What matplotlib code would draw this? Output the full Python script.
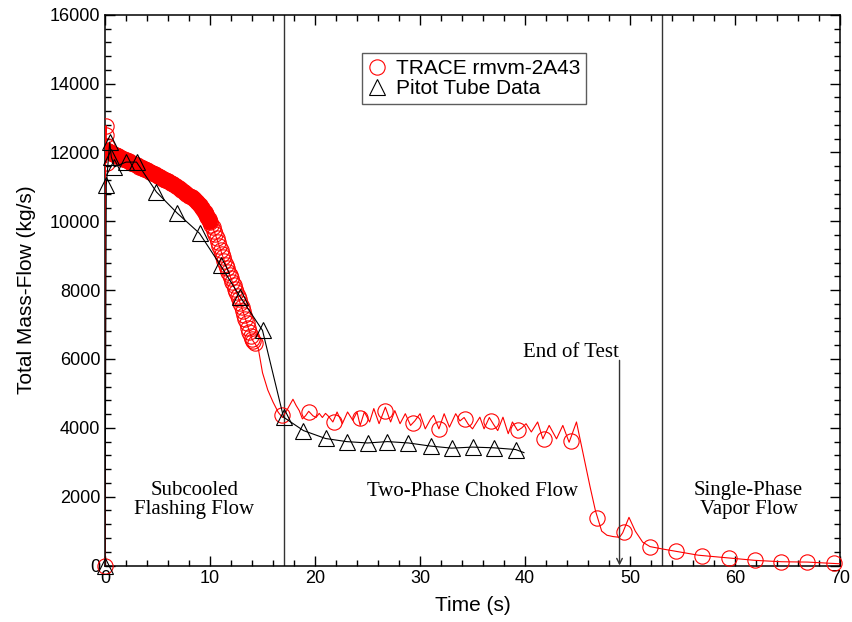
import matplotlib
matplotlib.use("Agg")
import matplotlib.pyplot as plt
from matplotlib.ticker import MultipleLocator

# TRACE calculation, line (time s, mass flow kg/s)
trace_t = [0, 0.05, 0.1, 0.15, 0.2,
           0.25, 0.5, 0.75, 1.0, 1.25, 1.5, 1.75, 2.0, 2.25, 2.5, 2.75, 3.0,
           3.25, 3.5, 3.75, 4.0, 4.25, 4.5, 4.75, 5.0, 5.25, 5.5, 5.75, 6.0,
           6.25, 6.5, 6.75, 7.0, 7.25, 7.5, 7.75, 8.0, 8.25, 8.5, 8.75, 9.0,
           9.25, 9.5, 9.625, 9.75, 9.875, 10.0, 10.125, 10.25, 10.375, 10.5,
           10.625, 10.75, 10.875, 11.0, 11.125, 11.25, 11.375, 11.5, 11.625,
           11.75, 11.875, 12.0, 12.125, 12.25, 12.375, 12.5, 12.625, 12.75,
           12.875, 13.0, 13.125, 13.25, 13.375, 13.5, 13.625, 13.75, 13.875,
           14.0, 14.125, 14.25,
           14.6, 15.0, 15.5, 16.0, 16.5, 16.9,
           17.3, 17.9, 18.2, 18.5, 18.8, 19.1, 19.4, 19.8, 20.1, 20.4, 20.7,
           21.0, 21.3, 21.7, 22.1, 22.6, 23.1, 23.6, 24.0, 24.3, 24.7, 25.2,
           25.6, 26.1, 26.7, 27.2, 27.6, 28.1, 28.6, 29.1, 29.5, 30.0, 30.5,
           31.0, 31.3, 31.8, 32.3, 32.8, 33.4, 33.8, 34.2, 34.6, 35.0, 35.7,
           36.1, 36.6, 37.0, 37.4, 37.9, 38.4, 38.8, 39.3, 39.7, 40.1, 40.6,
           41.2, 41.7, 42.3, 43.0, 43.6, 44.2, 44.9, 45.5, 46.2, 46.7, 47.0,
           47.3, 47.8, 48.4, 49.0, 49.3, 49.9, 50.5, 51.2, 51.9, 53.1, 54.4,
           56.5, 59.4, 61.9, 64.4, 66.9, 70.0]
trace_v = [0, 12500, 12780, 11700, 12200,
           12050, 12000, 11960, 11920, 11890, 11850, 11810, 11780, 11740, 11700, 11670, 11630,
           11590, 11560, 11520, 11480, 11440, 11400, 11360, 11320, 11280, 11240, 11200, 11160,
           11110, 11070, 11020, 10970, 10920, 10860, 10800, 10740, 10700, 10650, 10570, 10480,
           10380, 10260, 10200, 10130, 10060, 9980, 9900, 9820, 9720, 9620,
           9510, 9400, 9290, 9170, 9060, 8950, 8850, 8740, 8640,
           8540, 8440, 8340, 8240, 8140, 8040, 7940, 7840, 7730,
           7620, 7510, 7400, 7280, 7160, 7040, 6910, 6790, 6680,
           6580, 6510, 6460,
           6300, 5600, 5100, 4750, 4450, 4300,
           4500, 4830, 4650, 4500, 4260, 4350, 4480, 4350, 4300, 4420, 4300,
           4420, 4330, 4170, 4460, 4120, 4460, 4220, 4460, 4070, 4460, 4170,
           4560, 4120, 4600, 4170, 4500, 4120, 4410, 4070, 4200, 4410, 3970,
           4250, 4360, 3970, 4410, 4020, 4410, 4200, 4300, 4100, 3970, 4310,
           3970, 4300, 4100, 3920, 4310, 3830, 4170, 3920, 4000, 4120, 3880,
           4170, 3680, 4070, 3680, 4070, 3580, 4170, 3300, 2280, 1600, 1300,
           1000, 880, 840, 820, 950, 1400, 1000, 680, 550, 480, 410,
           300, 220, 150, 110, 100, 50]

# TRACE markers after the densely sampled part
trace_mark_t = [0, 16.85, 19.4, 21.8, 24.3, 26.7, 29.3, 31.8, 34.3, 36.8, 39.3,
                41.8, 44.4, 46.9, 49.4, 51.9, 54.4, 56.9, 59.4, 61.9, 64.4, 66.9, 69.4]
trace_mark_v = [0, 4380, 4460, 4170, 4300, 4500, 4130, 3970, 4250, 4200, 3950,
                3680, 3630, 1390, 960, 550, 410, 290, 220, 150, 115, 110, 80]

# Pitot tube measurements
pitot_t = [0, 0.12, 0.45, 0.6, 0.9, 2.0, 3.0, 4.9, 6.9, 9.0, 11.0, 12.9, 15.0,
           17.0, 18.9, 21.0, 23.0, 25.0, 26.9, 28.9, 31.0, 33.0, 35.0, 37.0, 39.1]
pitot_v = [0, 11050, 12300, 11870, 11580, 11720, 11720, 10850, 10230, 9650, 8720,
           7790, 6830, 4310, 3920, 3690, 3600, 3560, 3600, 3560, 3470, 3410,
           3440, 3420, 3370]
pitot_end = (39.9, 3280)

region_bounds = [17, 53]
end_of_test = 49

serif = ["Liberation Serif", "DejaVu Serif"]
plt.rcParams["font.family"] = ["Liberation Sans", "DejaVu Sans"]

fig = plt.figure(figsize=(8.53, 6.22), dpi=100)
ax = fig.add_axes([0.1231, 0.0908, 0.8617, 0.8855])

# output is so dense in the subcooled part that the markers merge into a band
n_dense = trace_t.index(14.25) + 1
n_solid = trace_t.index(10.0) + 1
ax.plot(trace_t, trace_v, color="red", lw=0.8, zorder=3)
ax.plot(trace_t[5:n_solid], trace_v[5:n_solid], color="red", lw=11.5,
        solid_capstyle="round", zorder=3)
ax.plot(trace_t[1:n_dense], trace_v[1:n_dense], ls="none", marker="o", ms=11,
        mfc="none", mec="red", mew=0.8, zorder=3)
ax.plot(trace_mark_t, trace_mark_v, ls="none", marker="o", ms=11,
        mfc="none", mec="red", mew=0.8, zorder=3, clip_on=False,
        label="TRACE rmvm-2A43")

ax.plot(pitot_t + [pitot_end[0]], pitot_v + [pitot_end[1]], color="black", lw=0.8, zorder=4)
ax.plot(pitot_t, pitot_v, ls="none", marker="^", ms=12, mfc="none", mec="black",
        mew=0.8, zorder=4, clip_on=False, label="Pitot Tube Data")

for xb in region_bounds:
    ax.axvline(xb, color="#333333", lw=1.0, zorder=2)

ax.annotate("", xy=(end_of_test, 0), xytext=(end_of_test, 5960),
            arrowprops=dict(arrowstyle="->", color="#333333", lw=1.0,
                            shrinkA=0, shrinkB=0))
ax.text(end_of_test - 0.1, 5900, "End of Test", family=serif, fontsize=15,
        ha="right", va="bottom")

ax.text(8.5, 1900, "Subcooled\nFlashing Flow", family=serif, fontsize=15,
        ha="center", va="center", linespacing=0.95)
ax.text(35, 2150, "Two-Phase Choked Flow", family=serif, fontsize=15,
        ha="center", va="center")
ax.text(61.3, 1900, "Single-Phase\nVapor Flow", family=serif, fontsize=15,
        ha="center", va="center", linespacing=0.95)

ax.set_xlim(0, 70)
ax.set_ylim(0, 16000)
ax.xaxis.set_major_locator(MultipleLocator(10))
ax.xaxis.set_minor_locator(MultipleLocator(2))
ax.yaxis.set_major_locator(MultipleLocator(2000))
ax.yaxis.set_minor_locator(MultipleLocator(400))
ax.tick_params(which="both", direction="in", top=True, right=True, width=1.0,
               labelsize=13)
ax.tick_params(which="major", length=7)
ax.tick_params(which="minor", length=4)
for s in ax.spines.values():
    s.set_linewidth(1.1)

ax.set_xlabel("Time (s)", fontsize=15, labelpad=6)
ax.set_ylabel("Total Mass-Flow (kg/s)", fontsize=15, labelpad=10)

leg = ax.legend(loc="upper left", bbox_to_anchor=(0.35, 0.931), fontsize=15,
                frameon=True, fancybox=False, edgecolor="#333333",
                handlelength=0.8, handletextpad=0.5, borderpad=0.3,
                labelspacing=0.05, borderaxespad=0)
leg.get_frame().set_linewidth(1.0)

fig.savefig("out.png", dpi=100)
